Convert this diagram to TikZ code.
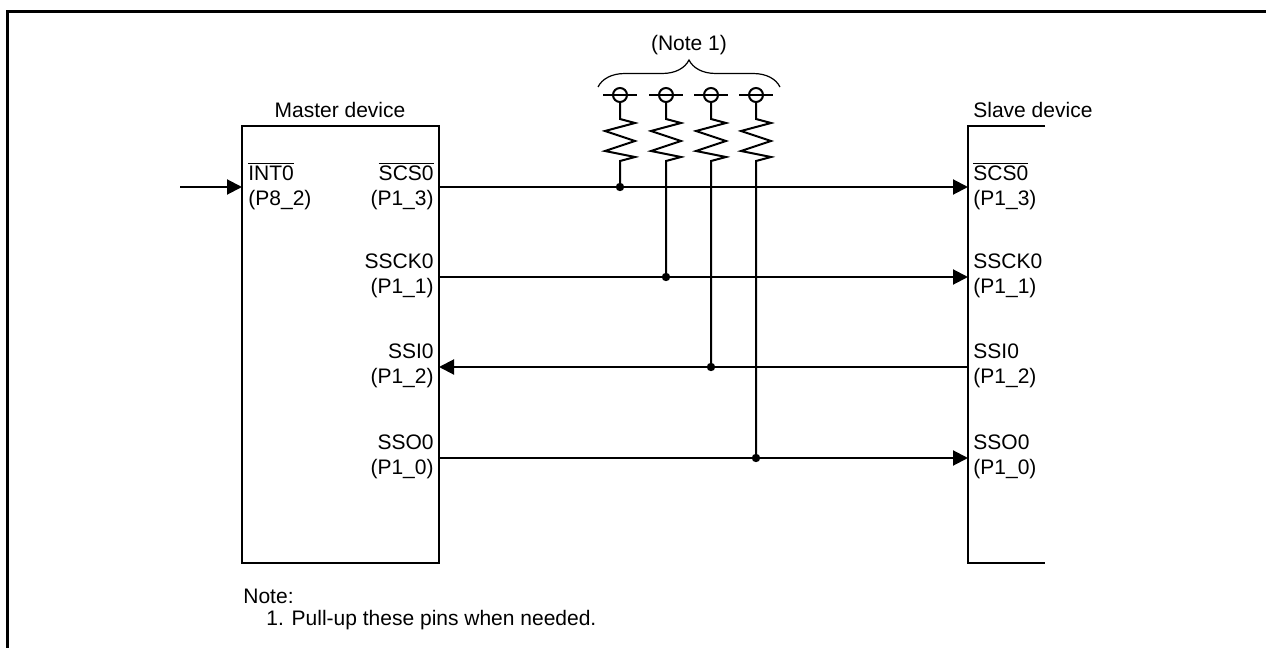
\documentclass[tikz,border=0pt]{standalone}
\usepackage{fontspec}
\setmainfont{Liberation Sans}
\usepackage{tikz}
\usetikzlibrary{arrows.meta,decorations.pathreplacing}

\newcommand{\ovl}[1]{$\overline{\mbox{#1}}$}

\begin{document}
\begin{tikzpicture}[x=0.5pt,y=-0.5pt,
	font=\fontsize{10.5}{12.5}\selectfont,
	wire/.style={line width=1pt},
	sig/.style={wire,-{Triangle[length=7.5pt,width=7.5pt]}},
	pinl/.style={anchor=east,align=right,inner sep=0pt},
	pinr/.style={anchor=west,align=left,inner sep=0pt}]
	\useasboundingbox (0,0) rectangle (1266,648);
	% outer frame
	\draw [line width=1.6pt] (7.7,648) -- (7.7,11.7) -- (1266,11.7);

	% master device
	\draw [wire] (242,126) rectangle (439,563);
	\node (master) at (340,110) {Master device};
	\coordinate (mINT) at (242,187);
	\coordinate (mSCS) at (439,187);
	\coordinate (mSSCK) at (439,277);
	\coordinate (mSSI) at (439,367);
	\coordinate (mSSO) at (439,458);
	\coordinate (intin) at (180,187);
	\node [pinr] (lINT) at (248,186) {\ovl{INT0}\\(P8\_2)};
	\node [pinl] (lSCS) at (434,186) {\ovl{SCS0}\\(P1\_3)};
	\node [pinl] (lSSCK) at (434,276) {SSCK0\\(P1\_1)};
	\node [pinl] (lSSI) at (434,366) {SSI0\\(P1\_2)};
	\node [pinl] (lSSO) at (434,457) {SSO0\\(P1\_0)};

	% slave device
	\draw [wire] (1045,126) -- (968,126) -- (968,563) -- (1045,563);
	\node [pinr] (slave) at (973,110) {Slave device};
	\coordinate (sSCS) at (968,187);
	\coordinate (sSSCK) at (968,277);
	\coordinate (sSSI) at (968,367);
	\coordinate (sSSO) at (968,458);
	\node [pinr] (rSCS) at (973,186) {\ovl{SCS0}\\(P1\_3)};
	\node [pinr] (rSSCK) at (973,276) {SSCK0\\(P1\_1)};
	\node [pinr] (rSSI) at (973,366) {SSI0\\(P1\_2)};
	\node [pinr] (rSSO) at (973,457) {SSO0\\(P1\_0)};

	% signals
	\draw [sig] (intin) -- (mINT);
	\draw [sig] (mSCS) -- (sSCS);
	\draw [sig] (mSSCK) -- (sSSCK);
	\draw [sig] (sSSI) -- (mSSI);
	\draw [sig] (mSSO) -- (sSSO);

	% pull-up resistors
	\foreach \rx/\ry/\nm in {620/187/1,666/277/2,711/367/3,756/458/4}{
		\coordinate (vcc\nm) at (\rx,95);
		\coordinate (j\nm) at (\rx,\ry);
		\draw [wire] (vcc\nm) circle [radius=3.5pt];
		\draw [wire] (vcc\nm) ++(-17,0) -- ++(34,0);
		\draw [wire] (vcc\nm) ++(0,7) -- ++(0,17) -- ++(15,4) -- ++(-30,8)
			-- ++(30,10) -- ++(-30,10) -- ++(30,6) -- ++(-15,4) -- (j\nm);
		\fill (j\nm) circle [radius=2.1pt];
	}
	\draw [line width=0.6pt,decorate,decoration={brace,amplitude=13.5pt}]
		(598,87) -- (780,87);
	\node (note1) at (689,45) {(Note 1)};

	% note
	\node [pinr] (note) at (243,596) {Note:};
	\node [pinr] (pull) at (266,620) {1. Pull-up these pins when needed.};
\end{tikzpicture}
\end{document}
